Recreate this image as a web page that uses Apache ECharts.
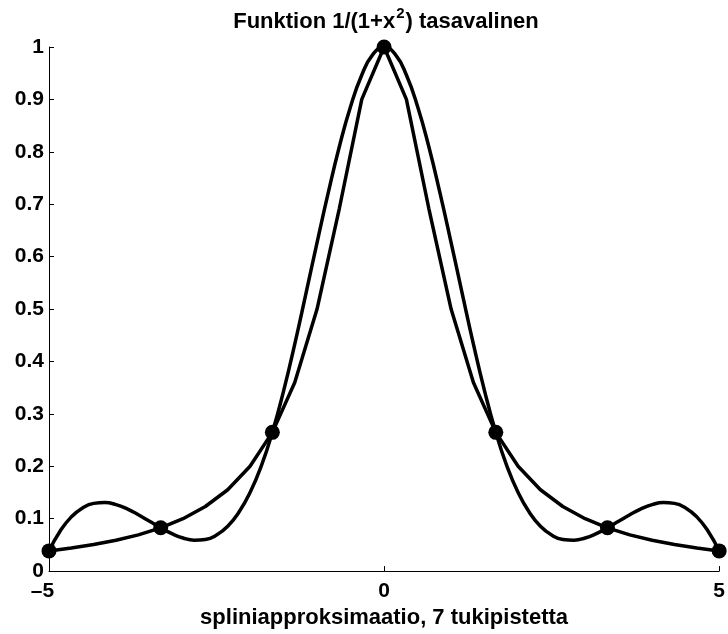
<!DOCTYPE html>
<html>
<head>
<meta charset="utf-8">
<script src="https://cdn.jsdelivr.net/npm/echarts@6/dist/echarts.min.js"></script>
<style>
html,body{margin:0;padding:0;background:#fff;}
#chart{width:728px;height:634px;}
</style>
</head>
<body>
<div id="chart"></div>
<script>
// Function 1/(1+x^2) as plotted (samples)
var funcX = [-5, -4.667, -4.333, -4, -3.667, -3.333, -3, -2.667, -2.333, -2, -1.667, -1.333, -1, -0.667, -0.333, 0,
             0.333, 0.667, 1, 1.333, 1.667, 2, 2.333, 2.667, 3, 3.333, 3.667, 4, 4.333, 4.667, 5];
var funcY = [0.0385, 0.0439, 0.0506, 0.0588, 0.0692, 0.0826, 0.1, 0.1233, 0.1552, 0.2, 0.2647, 0.36, 0.5, 0.6923, 0.9, 1,
             0.9, 0.6923, 0.5, 0.36, 0.2647, 0.2, 0.1552, 0.1233, 0.1, 0.0826, 0.0692, 0.0588, 0.0506, 0.0439, 0.0385];

// Spline approximation curve
var splineX = [-5, -4.833, -4.667, -4.5, -4.333, -4.167, -4, -3.833, -3.667, -3.5, -3.333, -3.167, -3, -2.833, -2.667, -2.5,
               -2.333, -2.167, -2, -1.833, -1.667, -1.5, -1.333, -1.167, -1, -0.833, -0.667, -0.5, -0.333, -0.167, 0,
               0.167, 0.333, 0.5, 0.667, 0.833, 1, 1.167, 1.333, 1.5, 1.667, 1.833, 2, 2.167, 2.333, 2.5,
               2.667, 2.833, 3, 3.167, 3.333, 3.5, 3.667, 3.833, 4, 4.167, 4.333, 4.5, 4.667, 4.833, 5];
var splineY = [0.0385, 0.0766, 0.1035, 0.1206, 0.1292, 0.1308, 0.1268, 0.1186, 0.1075, 0.0951, 0.0826, 0.0715, 0.0631, 0.0590, 0.0604, 0.0688,
               0.0856, 0.1122, 0.1500, 0.2004, 0.2647, 0.3435, 0.4331, 0.5291, 0.6269, 0.7221, 0.8101, 0.8864, 0.9465, 0.9859, 1,
               0.9859, 0.9465, 0.8864, 0.8101, 0.7221, 0.6269, 0.5291, 0.4331, 0.3435, 0.2647, 0.2004, 0.1500, 0.1122, 0.0856, 0.0688,
               0.0604, 0.0590, 0.0631, 0.0715, 0.0826, 0.0951, 0.1075, 0.1186, 0.1268, 0.1308, 0.1292, 0.1206, 0.1035, 0.0766, 0.0385];

// Support points (7 tukipistettä)
var nodeX = [-5, -3.333, -1.667, 0, 1.667, 3.333, 5];
var nodeY = [0.0385, 0.0826, 0.2647, 1, 0.2647, 0.0826, 0.0385];

var xTicks = [-5, 0, 5];
var titleMain = 'Funktion 1/(1+x';
var titleSup = '2';
var titleEnd = ') tasavalinen';
var xLabel = 'spliniapproksimaatio, 7 tukipistetta';

function zip(a, b) { return a.map(function (v, i) { return [v, b[i]]; }); }

var FONT = '"Liberation Sans", Arial, Helvetica, sans-serif';
var chart = echarts.init(document.getElementById('chart'), null, {renderer: 'canvas'});
chart.setOption({
  animation: false,
  backgroundColor: '#ffffff',
  title: {
    text: '{b|' + titleMain + '}{s|' + titleSup + '}{b|' + titleEnd + '}',
    left: 381, top: 4, textAlign: 'center',
    textStyle: {
      rich: {
        b: {fontFamily: FONT, fontWeight: 'bold', fontSize: 22, color: '#000', verticalAlign: 'bottom', lineHeight: 24},
        s: {fontFamily: FONT, fontWeight: 'bold', fontSize: 15, color: '#000', verticalAlign: 'bottom', lineHeight: 16, padding: [0, 1, 12, 1]}
      }
    }
  },
  grid: {left: 49, right: 7, top: 47, bottom: 57, containLabel: false},
  xAxis: {
    type: 'value', min: -5, max: 5, interval: 5,
    name: xLabel, nameLocation: 'middle', nameGap: 27,
    nameTextStyle: {fontFamily: FONT, fontWeight: 'bold', fontSize: 22, color: '#000', verticalAlign: 'top'},
    axisLine: {show: true, onZero: false, lineStyle: {color: '#000', width: 1}},
    axisTick: {show: true, inside: true, length: 5, lineStyle: {color: '#000', width: 1}},
    splitLine: {show: false},
    axisLabel: {
      margin: 10, fontFamily: FONT, fontWeight: 'bold', fontSize: 21, color: '#000',
      showMinLabel: true, showMaxLabel: true,
      formatter: function (v) {
        if (xTicks.indexOf(v) < 0) return '';
        return v < 0 ? '{n|\u2013' + Math.abs(v) + '}' : String(v);
      },
      rich: {
        n: {fontFamily: FONT, fontWeight: 'bold', fontSize: 21, color: '#000', padding: [0, 13, 0, 0]}
      }
    }
  },
  yAxis: {
    type: 'value', min: 0, max: 1, interval: 0.1,
    axisLine: {show: true, onZero: false, lineStyle: {color: '#000', width: 1}},
    axisTick: {show: true, inside: true, length: 5, lineStyle: {color: '#000', width: 1}},
    splitLine: {show: false},
    axisLabel: {
      margin: 5, fontFamily: FONT, fontWeight: 'bold', fontSize: 21, color: '#000',
      showMinLabel: true, showMaxLabel: true,
      formatter: function (v) { return String(Math.round(v * 10) / 10); }
    }
  },
  series: [
    {
      type: 'line', data: zip(funcX, funcY), showSymbol: false, symbol: 'none',
      lineStyle: {color: '#000', width: 3.5}, smooth: false, z: 2
    },
    {
      type: 'line', data: zip(splineX, splineY), showSymbol: false, symbol: 'none',
      lineStyle: {color: '#000', width: 3.5}, smooth: true, z: 2
    },
    {
      type: 'scatter', data: zip(nodeX, nodeY), symbol: 'circle', symbolSize: 15,
      itemStyle: {color: '#000', opacity: 1}, clip: false, z: 3
    }
  ]
});
</script>
</body>
</html>
